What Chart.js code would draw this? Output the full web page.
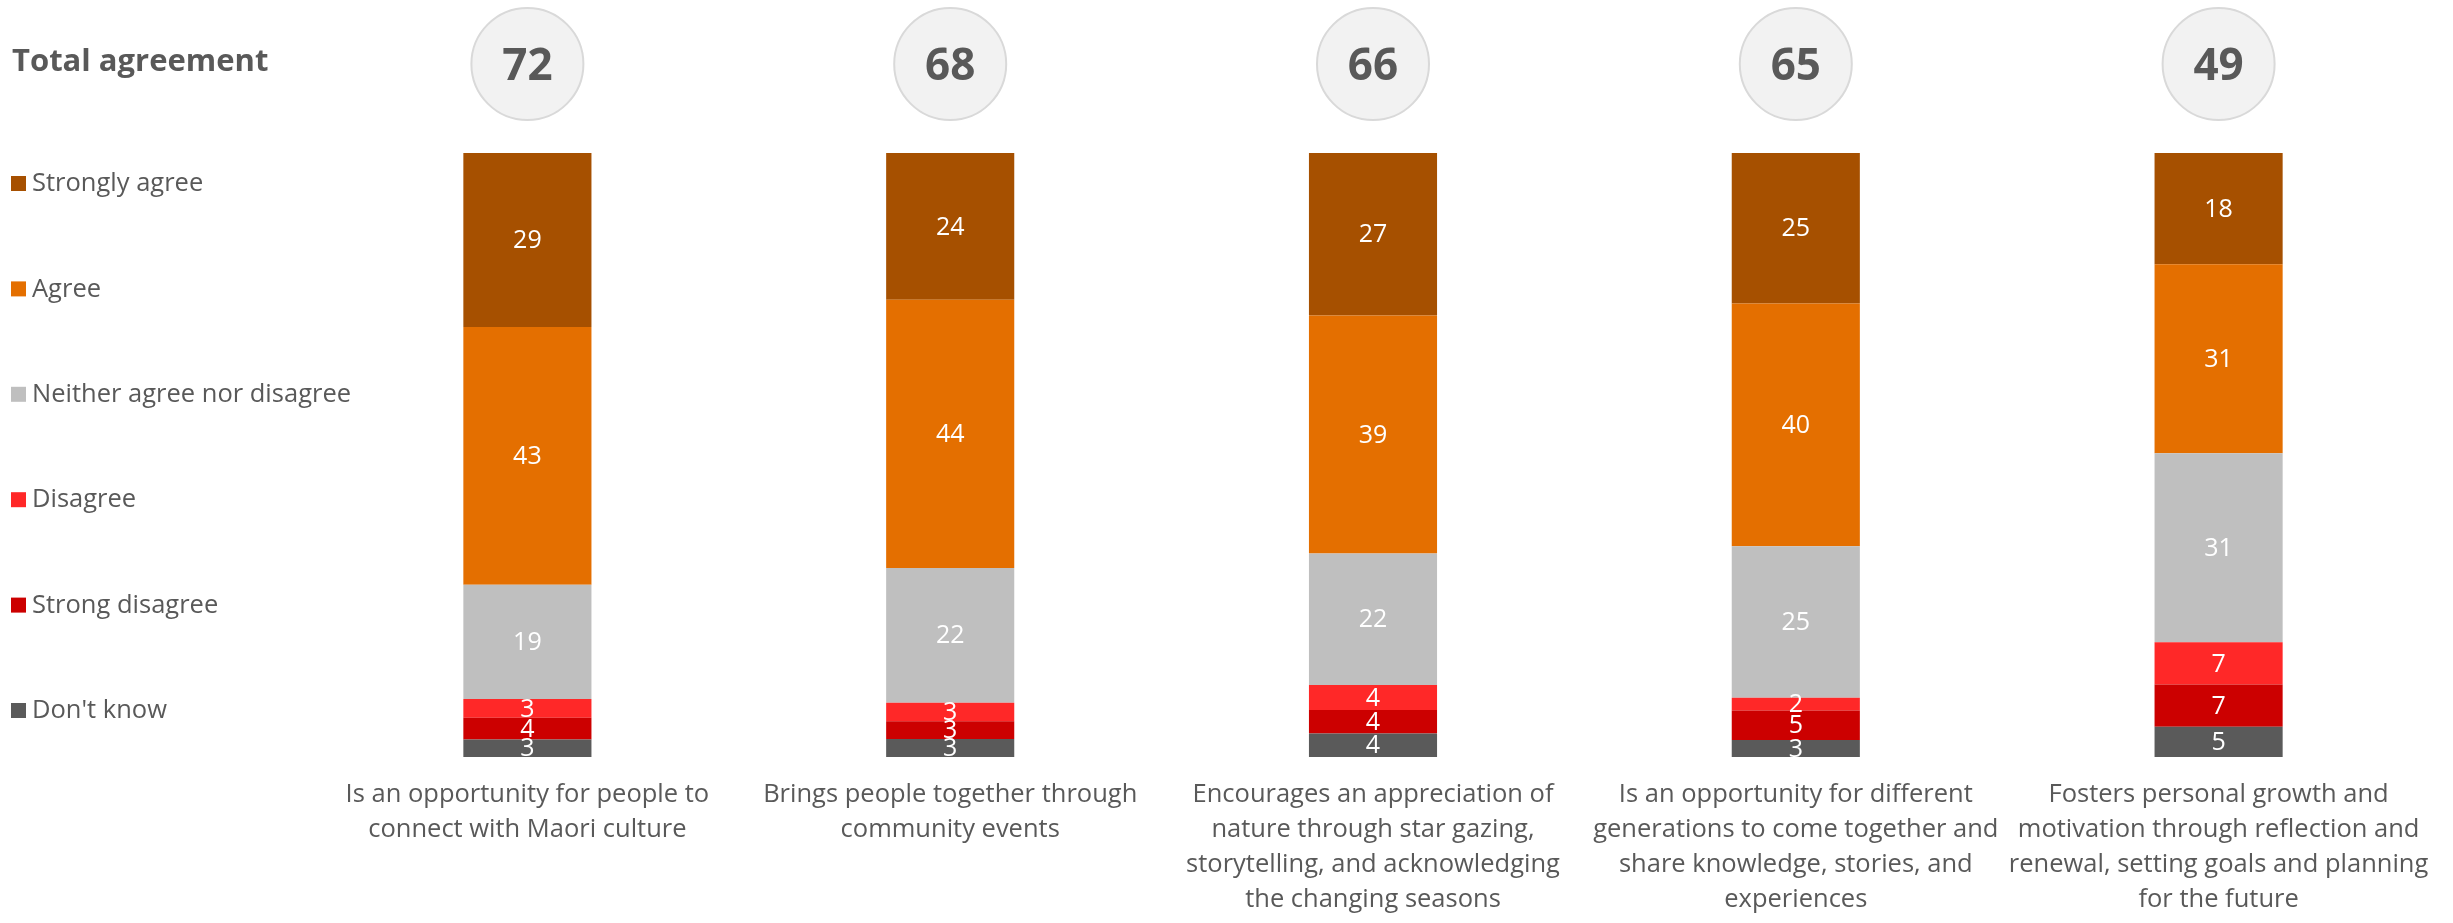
<!DOCTYPE html>
<html>
<head>
<meta charset="utf-8">
<title>Total agreement</title>
<script src="https://cdn.jsdelivr.net/npm/chart.js@4.4.1/dist/chart.umd.min.js"></script>
<style>
    html, body { margin: 0; padding: 0; background: #ffffff; }
    canvas { display: block; }
</style>
</head>
<body>
<canvas id="agreeChart" width="2453" height="923"></canvas>
<script>
// ---- data ----
const statements = [
    ['Is an opportunity for people to', 'connect with Maori culture'],
    ['Brings people together through', 'community events'],
    ['Encourages an appreciation of', 'nature through star gazing,', 'storytelling, and acknowledging', 'the changing seasons'],
    ['Is an opportunity for different', 'generations to come together and', 'share knowledge, stories, and', 'experiences'],
    ['Fosters personal growth and', 'motivation through reflection and', 'renewal, setting goals and planning', 'for the future']
];

const dontKnow        = [2.9, 3.0, 3.9, 2.8, 5.0];
const strongDisagree  = [3.6, 2.9, 3.9, 4.9, 7.0];
const disagree        = [3.1, 3.1, 4.1, 2.1, 7.0];
const neither         = [18.9, 22.3, 21.8, 25.1, 31.3];
const agree           = [42.7, 44.4, 39.4, 40.2, 31.3];
const stronglyAgree   = [28.8, 24.3, 26.9, 24.9, 18.4];

const totalAgreement  = [72, 68, 66, 65, 49];

const TEXT_GREY = '#595959';
const FONT = '"Open Sans", sans-serif';

// segment value labels, white, centred in each piece
const segmentLabels = {
    id: 'segmentLabels',
    afterDatasetsDraw(chart) {
        const ctx = chart.ctx;
        ctx.save();
        ctx.fillStyle = '#ffffff';
        ctx.font = '25px ' + FONT;
        ctx.textAlign = 'center';
        ctx.textBaseline = 'middle';
        chart.data.datasets.forEach((ds, i) => {
            const meta = chart.getDatasetMeta(i);
            meta.data.forEach((bar, j) => {
                const cy = (bar.y + bar.base) / 2;
                ctx.fillText(String(Math.round(ds.data[j])), bar.x, cy + 1);
            });
        });
        ctx.restore();
    }
};

// "Total agreement" heading, bubbles above bars, and the left-hand legend
const sideDecor = {
    id: 'sideDecor',
    afterDraw(chart) {
        const ctx = chart.ctx;
        const xs = chart.scales.x;
        ctx.save();

        ctx.fillStyle = TEXT_GREY;
        ctx.font = 'bold 31px ' + FONT;
        ctx.textAlign = 'left';
        ctx.textBaseline = 'middle';
        ctx.fillText('Total agreement', 12, 62);

        totalAgreement.forEach((v, i) => {
            const cx = xs.getPixelForValue(i);
            ctx.beginPath();
            ctx.arc(cx, 64, 56, 0, Math.PI * 2);
            ctx.fillStyle = '#f2f2f2';
            ctx.fill();
            ctx.lineWidth = 2;
            ctx.strokeStyle = '#d9d9d9';
            ctx.stroke();
            ctx.fillStyle = TEXT_GREY;
            ctx.font = 'bold 44px ' + FONT;
            ctx.textAlign = 'center';
            ctx.fillText(String(v), cx, 67);
        });

        const items = chart.data.datasets.slice().reverse();
        ctx.font = '25.5px ' + FONT;
        ctx.textAlign = 'left';
        items.forEach((ds, k) => {
            const y = 183 + k * 105.4;
            ctx.fillStyle = ds.backgroundColor;
            ctx.fillRect(11, y - 7, 15, 15);
            ctx.fillStyle = TEXT_GREY;
            ctx.fillText(ds.label, 32, y + 1);
        });

        ctx.restore();
    }
};

new Chart(document.getElementById('agreeChart'), {
    type: 'bar',
    data: {
        labels: statements,
        datasets: [
            { label: "Don't know",                 data: dontKnow,       backgroundColor: '#5a5a5a' },
            { label: 'Strong disagree',            data: strongDisagree, backgroundColor: '#cc0000' },
            { label: 'Disagree',                   data: disagree,       backgroundColor: '#ff2828' },
            { label: 'Neither agree nor disagree', data: neither,        backgroundColor: '#bfbfbf' },
            { label: 'Agree',                      data: agree,          backgroundColor: '#e46f00' },
            { label: 'Strongly agree',             data: stronglyAgree,  backgroundColor: '#a65000' }
        ]
    },
    options: {
        responsive: false,
        animation: false,
        layout: { padding: { top: 153, left: 316, right: 23, bottom: 0 } },
        datasets: {
            bar: {
                barPercentage: 1,
                categoryPercentage: 0.303,
                borderWidth: 0
            }
        },
        plugins: {
            legend: { display: false },
            tooltip: { enabled: false }
        },
        scales: {
            x: {
                stacked: true,
                grid: { display: false, drawTicks: false },
                border: { display: false },
                ticks: {
                    color: TEXT_GREY,
                    font: { family: FONT, size: 25.5, lineHeight: 1.37 },
                    padding: 20,
                    autoSkip: false,
                    maxRotation: 0,
                    minRotation: 0
                },
                afterFit(scale) { scale.height = 166; }
            },
            y: {
                stacked: true,
                display: false,
                min: 0,
                max: 100
            }
        }
    },
    plugins: [segmentLabels, sideDecor]
});
</script>
</body>
</html>
